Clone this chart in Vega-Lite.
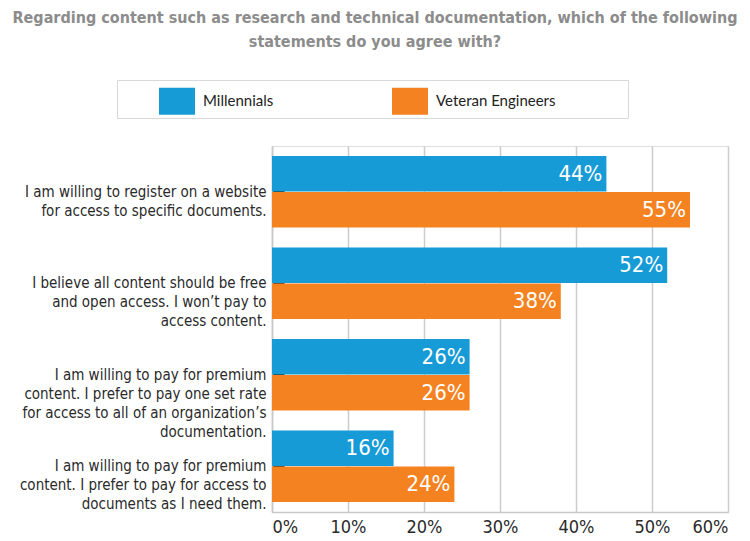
{
  "$schema": "https://vega.github.io/schema/vega-lite/v6.json",
  "autosize": "none",
  "width": 456,
  "height": 366,
  "padding": {"left": 272, "top": 146, "right": 22, "bottom": 29},
  "background": "white",
  "title": {
    "text": ["Regarding content such as research and technical documentation, which of the following", "statements do you agree with?"],
    "font": "DejaVu Sans Condensed",
    "fontSize": 16,
    "fontWeight": "bold",
    "color": "#8c8c8c",
    "anchor": "middle",
    "dx": -125,
    "offset": 30,
    "lineHeight": 24
  },
  "data": {
    "values": [
      {"statement": "I am willing to register on a website|for access to specific documents.", "group": "Millennials", "value": 0.44},
      {"statement": "I am willing to register on a website|for access to specific documents.", "group": "Veteran Engineers", "value": 0.55},
      {"statement": "I believe all content should be free|and open access. I won’t pay to|access content.", "group": "Millennials", "value": 0.52},
      {"statement": "I believe all content should be free|and open access. I won’t pay to|access content.", "group": "Veteran Engineers", "value": 0.38},
      {"statement": "I am willing to pay for premium|content. I prefer to pay one set rate|for access to all of an organization’s|documentation.", "group": "Millennials", "value": 0.26},
      {"statement": "I am willing to pay for premium|content. I prefer to pay one set rate|for access to all of an organization’s|documentation.", "group": "Veteran Engineers", "value": 0.26},
      {"statement": "I am willing to pay for premium|content. I prefer to pay for access to|documents as I need them.", "group": "Millennials", "value": 0.16},
      {"statement": "I am willing to pay for premium|content. I prefer to pay for access to|documents as I need them.", "group": "Veteran Engineers", "value": 0.24}
    ]
  },
  "encoding": {
    "y": {
      "field": "statement",
      "type": "nominal",
      "sort": null,
      "scale": {"paddingInner": 0.22, "paddingOuter": 0.11},
      "axis": {
        "title": null,
        "labelExpr": "split(datum.label, '|')",
        "labelFont": "DejaVu Sans Condensed",
        "labelFontSize": 15,
        "labelColor": "#2a2a2a",
        "labelLineHeight": 19,
        "labelLimit": 300,
        "labelPadding": 18,
        "tickSize": -12,
        "tickColor": "#222",
        "tickWidth": 2,
        "domainColor": "#c8c8c8",
        "domainWidth": 1.5,
        "grid": false
      }
    },
    "yOffset": {"field": "group", "type": "nominal", "sort": ["Millennials", "Veteran Engineers"], "scale": {"paddingInner": 0.02}},
    "x": {
      "field": "value",
      "type": "quantitative",
      "scale": {"domain": [0, 0.6]},
      "axis": {
        "title": null,
        "values": [0, 0.1, 0.2, 0.3, 0.4, 0.5, 0.6],
        "format": ".0%",
        "labelFont": "DejaVu Sans Condensed",
        "labelFontSize": 18,
        "labelColor": "#2a2a2a",
        "labelPadding": 6,
        "ticks": false,
        "grid": true,
        "gridColor": "#cccccc",
        "gridWidth": 1.5,
        "domainColor": "#c8c8c8",
        "domainWidth": 1.5
      }
    }
  },
  "layer": [
    {
      "mark": {"type": "bar"},
      "encoding": {
        "color": {
          "field": "group",
          "type": "nominal",
          "scale": {"domain": ["Millennials", "Veteran Engineers"], "range": ["#179bd7", "#f58220"]},
          "legend": {
            "title": null,
            "orient": "none",
            "legendX": -155,
            "legendY": -66,
            "direction": "horizontal",
            "symbolType": "M-1,-0.75H1V0.75H-1Z",
            "symbolSize": 1296,
            "symbolStrokeWidth": 0,
            "symbolOffset": 39,
            "labelFont": "Lato",
            "labelFontSize": 15,
            "labelColor": "#222",
            "labelOffset": 8,
            "labelLimit": 400,
            "labelExpr": "datum.label == 'Veteran Engineers' ? 'Veteran Engineers\u00a0\u00a0\u00a0\u00a0\u00a0\u00a0\u00a0\u00a0\u00a0\u00a0\u00a0\u00a0\u00a0\u00a0\u00a0\u00a0\u00a0\u00a0\u200b' : datum.label",
            "columnPadding": 79,
            "padding": 3,
            "strokeColor": "#d8d8d8",
            "fillColor": "white"
          }
        }
      }
    },
    {
      "mark": {"type": "text", "align": "right", "baseline": "middle", "dx": -4, "font": "DejaVu Sans Condensed", "fontSize": 22, "color": "white"},
      "encoding": {
        "text": {"field": "value", "type": "quantitative", "format": ".0%"}
      }
    }
  ]
}
